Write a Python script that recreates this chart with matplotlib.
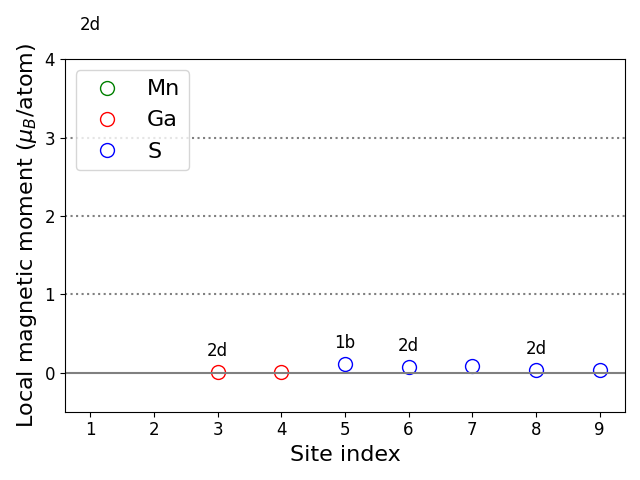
import matplotlib
matplotlib.use("Agg")
import matplotlib.pyplot as plt

sites = [1, 2, 3, 4, 5, 6, 7, 8, 9]
elements = ["Mn", "Mn", "Ga", "Ga", "S", "S", "S", "S", "S"]
moments = [4.17, 4.17, 0.01, 0.01, 0.11, 0.07, 0.08, 0.03, 0.03]
wyckoff = ["2d", "", "2d", "", "1b", "2d", "", "2d", ""]
colors = {"Mn": "green", "Ga": "red", "S": "blue"}

fig, ax = plt.subplots(figsize=(6.4, 4.8), dpi=100)
for el in ["Mn", "Ga", "S"]:
    xs = [s for s, e in zip(sites, elements) if e == el]
    ys = [m for m, e in zip(moments, elements) if e == el]
    ax.plot(xs, ys, 'o', mfc='none', mec=colors[el], ms=10, label=el)

for s, m, w in zip(sites, moments, wyckoff):
    if w:
        ax.text(s, m + 0.15, w, ha='center', va='bottom', fontsize=12)

for y in [1, 2, 3]:
    ax.axhline(y, color='gray', ls=':', lw=1.5)
ax.axhline(0, color='gray', ls='-', lw=1.5)

ax.set_xlim(0.6, 9.4)
ax.set_ylim(-0.5, 4)
ax.set_xticks(sites)
ax.set_yticks([0, 1, 2, 3, 4])
ax.tick_params(labelsize=12)
ax.set_xlabel("Site index", fontsize=16)
ax.set_ylabel(r"Local magnetic moment ($\mu_B$/atom)", fontsize=16)
ax.legend(loc='upper left', fontsize=16)
fig.tight_layout()
fig.savefig("out.png", dpi=100)
